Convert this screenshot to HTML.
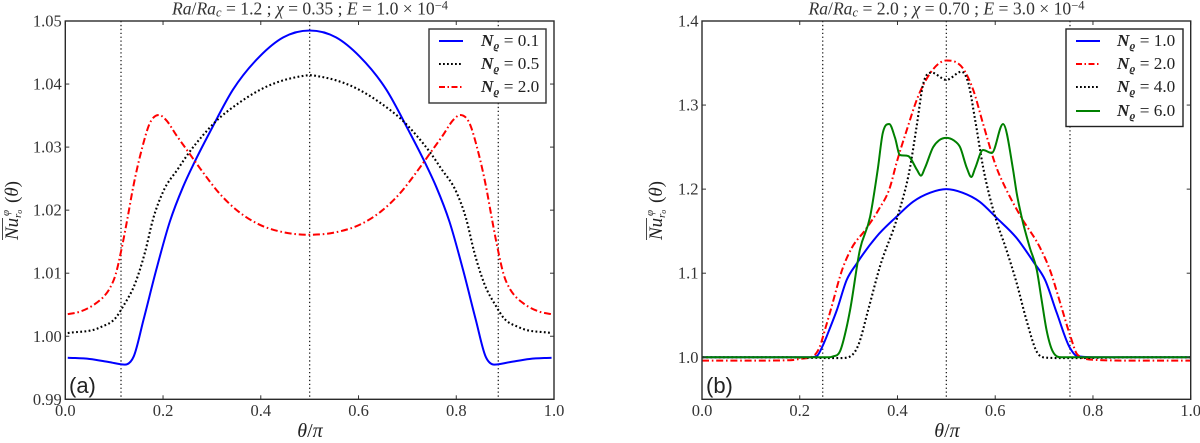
<!DOCTYPE html>
<html>
<head>
<meta charset="utf-8">
<style>
html,body{margin:0;padding:0;background:#fff;}
svg{display:block;}
text{font-family:"Liberation Serif","DejaVu Serif",serif;fill:#222;}
.title{font-size:17.6px;fill:#333;}
.ts{font-size:12.5px;}
.tick{font-size:16.5px;fill:#333;}
.i{font-style:italic;}
.lg{font-size:17.2px;}
.b{font-weight:bold;font-style:italic;}
.s{font-size:11px;}
.pl{font-family:"Liberation Sans",sans-serif;font-size:22px;}
.lab{font-size:19px;}
.xlab{font-size:20px;}
</style>
</head>
<body>
<svg id="fig" width="1200" height="443" viewBox="0 0 1200 443" xmlns="http://www.w3.org/2000/svg">
  <rect width="1200" height="443" fill="#fff"/>
  <g id="plotA"></g>
  <g id="plotB"></g>

  <text class="title" x="310" y="14.5" text-anchor="middle"><tspan class="i">Ra</tspan>/<tspan class="i">Ra</tspan><tspan class="ts i" dy="2">c</tspan><tspan dy="-2"> = 1.2 ; </tspan><tspan class="i">χ</tspan> = 0.35 ; <tspan class="i">E</tspan> = 1.0 × 10<tspan class="ts" dy="-5">−4</tspan></text>
  <text class="title" x="946.5" y="14.5" text-anchor="middle"><tspan class="i">Ra</tspan>/<tspan class="i">Ra</tspan><tspan class="ts i" dy="2">c</tspan><tspan dy="-2"> = 2.0 ; </tspan><tspan class="i">χ</tspan> = 0.70 ; <tspan class="i">E</tspan> = 3.0 × 10<tspan class="ts" dy="-5">−4</tspan></text>

  <text class="xlab" x="310" y="437" text-anchor="middle"><tspan class="i">θ</tspan>/<tspan class="i">π</tspan></text>
  <text class="xlab" x="947" y="437" text-anchor="middle"><tspan class="i">θ</tspan>/<tspan class="i">π</tspan></text>

  <g transform="translate(18,240) rotate(-90)">
    <line x1="0" x2="22" y1="-15.5" y2="-15.5" stroke="#333" stroke-width="0.9"/>
    <text class="lab" x="0" y="0"><tspan class="i">Nu</tspan></text>
    <text class="s i" x="22" y="3">r<tspan font-size="8" dy="1">o</tspan></text>
    <text class="s i" x="24" y="-9">φ</text>
    <text class="lab" x="37" y="0">(<tspan class="i">θ</tspan>)</text>
  </g>
  <g transform="translate(662,240) rotate(-90)">
    <line x1="0" x2="22" y1="-15.5" y2="-15.5" stroke="#333" stroke-width="0.9"/>
    <text class="lab" x="0" y="0"><tspan class="i">Nu</tspan></text>
    <text class="s i" x="22" y="3">r<tspan font-size="8" dy="1">o</tspan></text>
    <text class="s i" x="24" y="-9">φ</text>
    <text class="lab" x="37" y="0">(<tspan class="i">θ</tspan>)</text>
  </g>

  <text class="pl" x="69" y="393">(a)</text>
  <text class="pl" x="706" y="393">(b)</text>

  <g>
    <rect x="429" y="29" width="117" height="74" fill="#fff" stroke="#333" stroke-width="1.4"/>
    <line x1="439" x2="463" y1="41" y2="41" stroke="#0000ff" stroke-width="2"/>
    <text class="lg" x="481" y="46"><tspan class="b">N</tspan><tspan class="s b" dy="3">ϱ</tspan><tspan dy="-3"> = 0.1</tspan></text>
    <line x1="439" x2="463" y1="64" y2="64" stroke="#000" stroke-width="2" stroke-dasharray="1.8 2.2"/>
    <text class="lg" x="481" y="69"><tspan class="b">N</tspan><tspan class="s b" dy="3">ϱ</tspan><tspan dy="-3"> = 0.5</tspan></text>
    <line x1="439" x2="463" y1="87" y2="87" stroke="#ff0000" stroke-width="2" stroke-dasharray="6 2.5 1.5 2.5"/>
    <text class="lg" x="481" y="92"><tspan class="b">N</tspan><tspan class="s b" dy="3">ϱ</tspan><tspan dy="-3"> = 2.0</tspan></text>
  </g>

  <g>
    <rect x="1066" y="29" width="117" height="97.5" fill="#fff" stroke="#222" stroke-width="1.4"/>
    <line x1="1076" x2="1100" y1="41" y2="41" stroke="#0000ff" stroke-width="2"/>
    <text class="lg" x="1117" y="46"><tspan class="b">N</tspan><tspan class="s b" dy="3">ϱ</tspan><tspan dy="-3"> = 1.0</tspan></text>
    <line x1="1076" x2="1100" y1="64" y2="64" stroke="#ff0000" stroke-width="2" stroke-dasharray="6 2.5 1.5 2.5"/>
    <text class="lg" x="1117" y="69"><tspan class="b">N</tspan><tspan class="s b" dy="3">ϱ</tspan><tspan dy="-3"> = 2.0</tspan></text>
    <line x1="1076" x2="1100" y1="87" y2="87" stroke="#000" stroke-width="2" stroke-dasharray="1.8 2.2"/>
    <text class="lg" x="1117" y="92"><tspan class="b">N</tspan><tspan class="s b" dy="3">ϱ</tspan><tspan dy="-3"> = 4.0</tspan></text>
    <line x1="1076" x2="1100" y1="111" y2="111" stroke="#008000" stroke-width="2"/>
    <text class="lg" x="1117" y="116"><tspan class="b">N</tspan><tspan class="s b" dy="3">ϱ</tspan><tspan dy="-3"> = 6.0</tspan></text>
  </g>
</svg>
<script>
// Tick labels
const xTicks = ["0.0","0.2","0.4","0.6","0.8","1.0"];
const yTicksA = ["0.99","1.00","1.01","1.02","1.03","1.04","1.05"];
const yTicksB = ["1.0","1.1","1.2","1.3","1.4"];
const yDomainA = [0.99, 1.05];
const yDomainB = [0.95, 1.4];
const vLinesA = [0.114, 0.5, 0.886];
const vLinesB = [0.247, 0.5, 0.753];

// Panel (a), N = 0.1
const aBlueTheta = [0.005,0.05,0.09,0.122,0.14,0.16,0.186,0.214,0.241,0.265,0.298,0.343,0.398,0.446,0.5,0.554,0.602,0.657,0.702,0.735,0.759,0.786,0.814,0.84,0.86,0.878,0.91,0.95,0.995];
const aBlueValues = [0.9966,0.9964,0.9959,0.9955,0.9968,1.0026,1.0105,1.0182,1.0237,1.0277,1.0327,1.0391,1.0444,1.0474,1.0485,1.0474,1.0444,1.0391,1.0327,1.0277,1.0237,1.0182,1.0105,1.0026,0.9968,0.9955,0.9959,0.9964,0.9966];
// Panel (a), N = 0.5
const aBlackTheta = [0.005,0.071,0.105,0.118,0.143,0.163,0.18,0.2,0.231,0.252,0.282,0.303,0.357,0.412,0.48,0.5,0.52,0.588,0.643,0.697,0.718,0.748,0.769,0.8,0.82,0.837,0.857,0.882,0.895,0.929,0.995];
const aBlackValues = [1.0005,1.0014,1.0031,1.0047,1.0084,1.0133,1.0187,1.0229,1.0266,1.029,1.0319,1.0337,1.0371,1.0396,1.0412,1.0414,1.0412,1.0396,1.0371,1.0337,1.0319,1.029,1.0266,1.0229,1.0187,1.0133,1.0084,1.0047,1.0031,1.0014,1.0005];
// Panel (a), N = 2.0
const aRedTheta = [0.005,0.03,0.064,0.08,0.091,0.103,0.115,0.127,0.139,0.156,0.173,0.192,0.205,0.228,0.252,0.276,0.316,0.354,0.392,0.446,0.5,0.554,0.608,0.646,0.684,0.724,0.748,0.772,0.795,0.808,0.827,0.844,0.861,0.873,0.885,0.897,0.909,0.92,0.936,0.97,0.995];
const aRedValues = [1.0035,1.0039,1.0053,1.0064,1.0076,1.0098,1.0138,1.0186,1.0237,1.0295,1.0338,1.0351,1.0344,1.0318,1.0292,1.0266,1.0226,1.0198,1.0179,1.0165,1.0161,1.0165,1.0179,1.0198,1.0226,1.0266,1.0292,1.0318,1.0344,1.0351,1.0338,1.0295,1.0237,1.0186,1.0138,1.0098,1.0076,1.0064,1.0053,1.0039,1.0035];

// Panel (b), N = 1.0
const bBlueTheta = [0.0,0.1,0.22,0.235,0.248,0.262,0.276,0.296,0.317,0.357,0.398,0.432,0.467,0.5,0.533,0.568,0.603,0.644,0.678,0.702,0.726,0.753,0.767,0.8,0.9,1.0];
const bBlueValues = [1.0,1.0,1.0,1.0015,1.015,1.035,1.0562,1.0919,1.1118,1.1434,1.1672,1.1851,1.1958,1.2,1.1958,1.1851,1.1657,1.1417,1.1137,1.092,1.0527,1.011,1.0015,1.0,1.0,1.0];
// Panel (b), N = 2.0
const bRedTheta = [0.0,0.1,0.18,0.2,0.228,0.241,0.252,0.262,0.289,0.306,0.334,0.361,0.385,0.398,0.419,0.442,0.467,0.5,0.538,0.555,0.575,0.603,0.623,0.654,0.692,0.712,0.733,0.753,0.769,0.808,0.9,1.0];
const bRedValues = [0.996,0.996,0.9965,0.998,1.0015,1.0126,1.0335,1.0535,1.1077,1.1296,1.1514,1.1752,1.2029,1.231,1.2703,1.31,1.338,1.353,1.34,1.318,1.278,1.225,1.199,1.1657,1.13,1.1038,1.0646,1.0265,1.0027,0.9968,0.996,0.996];
// Panel (b), N = 4.0
const bBlackTheta = [0.0,0.15,0.28,0.296,0.32,0.34,0.364,0.4,0.426,0.439,0.453,0.47,0.5,0.531,0.545,0.559,0.575,0.6,0.623,0.644,0.664,0.685,0.705,0.75,0.9,1.0];
const bBlackValues = [1.0,1.0,0.999,0.9995,1.0146,1.0562,1.1077,1.1672,1.2267,1.274,1.326,1.3385,1.33,1.3397,1.326,1.282,1.2267,1.167,1.1276,1.088,1.044,1.0066,0.9995,0.999,1.0,1.0];
// Panel (b), N = 6.0
const bGreenTheta = [0.0,0.15,0.26,0.268,0.282,0.296,0.303,0.323,0.344,0.36,0.37,0.383,0.395,0.405,0.422,0.44,0.448,0.456,0.473,0.485,0.5,0.515,0.528,0.542,0.551,0.559,0.575,0.593,0.616,0.636,0.644,0.654,0.671,0.685,0.695,0.705,0.718,0.736,0.85,1.0];
const bGreenValues = [1.0,1.0,1.0,1.001,1.0066,1.036,1.0562,1.1276,1.1672,1.225,1.267,1.2775,1.261,1.2406,1.2394,1.2228,1.216,1.225,1.25,1.258,1.261,1.258,1.25,1.225,1.2145,1.225,1.2466,1.243,1.2775,1.225,1.195,1.167,1.13,1.104,1.068,1.0325,1.0066,1.0,1.0,1.0];

const NS = "http://www.w3.org/2000/svg";

function mk(parent, tag, attrs) {
  const el = document.createElementNS(NS, tag);
  for (const k in attrs) el.setAttribute(k, attrs[k]);
  parent.appendChild(el);
  return el;
}

function linear(d0, d1, r0, r1) {
  return function (v) { return r0 + (v - d0) / (d1 - d0) * (r1 - r0); };
}

// Monotone-x cubic path through scaled points
function curvePath(xs, ys) {
  const n = xs.length;
  const m = new Array(n).fill(0);
  const s = [];
  for (let i = 0; i < n - 1; i++) s.push((ys[i + 1] - ys[i]) / (xs[i + 1] - xs[i]));
  m[0] = s[0];
  m[n - 1] = s[n - 2];
  for (let i = 1; i < n - 1; i++) {
    if (s[i - 1] * s[i] <= 0) { m[i] = 0; continue; }
    const h0 = xs[i] - xs[i - 1], h1 = xs[i + 1] - xs[i];
    const p = (s[i - 1] * h1 + s[i] * h0) / (h0 + h1);
    const lim = 3 * Math.min(Math.abs(s[i - 1]), Math.abs(s[i]));
    m[i] = Math.sign(s[i]) * Math.min(Math.abs(p), lim);
  }
  let d = "M" + xs[0].toFixed(2) + "," + ys[0].toFixed(2);
  for (let i = 0; i < n - 1; i++) {
    const h = (xs[i + 1] - xs[i]) / 3;
    d += "C" + (xs[i] + h).toFixed(2) + "," + (ys[i] + m[i] * h).toFixed(2) + " " +
         (xs[i + 1] - h).toFixed(2) + "," + (ys[i + 1] - m[i + 1] * h).toFixed(2) + " " +
         xs[i + 1].toFixed(2) + "," + ys[i + 1].toFixed(2);
  }
  return d;
}

const LEFT_TOP = 21, BOTTOM = 399.3;

function drawPanel(groupId, prefix, x0, x1, yDomain, yTicks, vLines, seriesList) {
  const g = document.getElementById(groupId);
  const sx = linear(0, 1, x0, x1);
  const sy = linear(yDomain[0], yDomain[1], BOTTOM, LEFT_TOP);

  vLines.forEach(function (v) {
    const ln = mk(g, "line", { x1: sx(v), x2: sx(v), y1: LEFT_TOP, y2: BOTTOM, stroke: "#222", "stroke-width": 1.3, "stroke-dasharray": "1.3 2.6" });
    
    
  });

  seriesList.forEach(function (s) {
    const xs = s.theta.map(sx);
    const ys = s.values.map(sy);
    const p = mk(g, "path", { d: curvePath(xs, ys), fill: "none", stroke: s.color, "stroke-width": s.width, "stroke-dasharray": s.dash });
    
    
  });

  xTicks.forEach(function (t) {
    const v = parseFloat(t);
    const a = mk(g, "line", { x1: sx(v), x2: sx(v), y1: BOTTOM, y2: BOTTOM - 4, stroke: "#333", "stroke-width": 1 });
    
    
    const b = mk(g, "line", { x1: sx(v), x2: sx(v), y1: LEFT_TOP, y2: LEFT_TOP + 4, stroke: "#333", "stroke-width": 1 });
    
    
    const tx = mk(g, "text", { x: sx(v), y: 416, "text-anchor": "middle", class: "tick" });
    tx.textContent = t;
    
    
  });

  yTicks.forEach(function (t) {
    const v = parseFloat(t);
    const a = mk(g, "line", { x1: x0, x2: x0 + 4, y1: sy(v), y2: sy(v), stroke: "#333", "stroke-width": 1 });
    
    
    const b = mk(g, "line", { x1: x1, x2: x1 - 4, y1: sy(v), y2: sy(v), stroke: "#333", "stroke-width": 1 });
    
    
    const tx = mk(g, "text", { x: x0 - 3.5, y: sy(v) + 5.5, "text-anchor": "end", class: "tick" });
    tx.textContent = t;
    
    
  });

  const frame = mk(g, "rect", { x: x0, y: LEFT_TOP, width: x1 - x0, height: BOTTOM - LEFT_TOP, fill: "none", stroke: "#2a2a2a", "stroke-width": 1.4 });
  
  
}

const DOT = "1.8 2.4";
const DASHDOT = "7 2.8 1.6 2.8";

drawPanel("plotA", "panel-a", 65.3, 554, yDomainA, yTicksA, vLinesA, [
  { key: "n-0-1", theta: aBlueTheta, values: aBlueValues, color: "#0000ff", width: 2, dash: "none" },
  { key: "n-0-5", theta: aBlackTheta, values: aBlackValues, color: "#000", width: 2.1, dash: DOT },
  { key: "n-2-0", theta: aRedTheta, values: aRedValues, color: "#ff0000", width: 2, dash: DASHDOT }
]);

drawPanel("plotB", "panel-b", 702, 1190.7, yDomainB, yTicksB, vLinesB, [
  { key: "n-1-0", theta: bBlueTheta, values: bBlueValues, color: "#0000ff", width: 2, dash: "none" },
  { key: "n-2-0", theta: bRedTheta, values: bRedValues, color: "#ff0000", width: 2, dash: DASHDOT },
  { key: "n-4-0", theta: bBlackTheta, values: bBlackValues, color: "#000", width: 2.1, dash: DOT },
  { key: "n-6-0", theta: bGreenTheta, values: bGreenValues, color: "#008000", width: 2, dash: "none" }
]);
</script>
</body>
</html>
